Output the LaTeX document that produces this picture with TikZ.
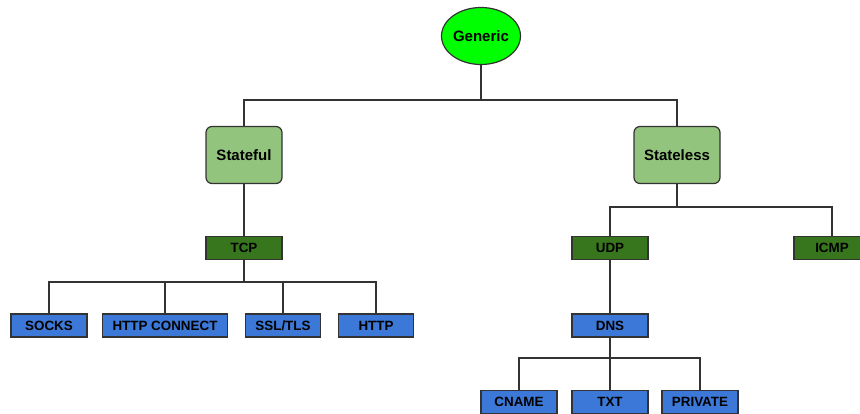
\documentclass[tikz,border=0pt]{standalone}
\usepackage{fontspec}
\setmainfont{Liberation Sans}
\usetikzlibrary{shapes.geometric}
\definecolor{brightgreen}{HTML}{00FF00}
\definecolor{lightgreen}{HTML}{93C47D}
\definecolor{darkgreen}{HTML}{38761D}
\definecolor{boxblue}{HTML}{3C78D8}
\definecolor{edge}{HTML}{333333}
\begin{document}
\begin{tikzpicture}[x=1pt,y=-1pt,
  base/.style={draw=edge,line width=1.2pt,inner sep=0pt,font=\bfseries\fontsize{15}{18}\selectfont,text=black},
  rootnode/.style={base,ellipse,fill=brightgreen,minimum width=76pt,minimum height=57pt},
  midbox/.style={base,rounded corners=6pt,fill=lightgreen,minimum height=57pt},
  protobox/.style={base,fill=darkgreen,minimum width=76pt,minimum height=23pt,font=\bfseries\fontsize{13.4}{16}\selectfont},
  leafbox/.style={base,fill=boxblue,minimum width=76pt,minimum height=23pt,font=\bfseries\fontsize{13.4}{16}\selectfont},
  conn/.style={draw=edge,line width=1.4pt}]
\useasboundingbox (0,0) rectangle (860,414);
\node[rootnode] (generic) at (481,36) {Generic};
\node[midbox,minimum width=76pt] (stateful) at (244,155) {Stateful};
\node[midbox,minimum width=86pt] (stateless) at (677,155) {Stateless};
\node[protobox] (tcp) at (244,248) {TCP};
\node[protobox] (udp) at (610,248) {UDP};
\node[protobox] (icmp) at (832,248) {ICMP};
\node[leafbox] (socks) at (49,325.5) {SOCKS};
\node[leafbox,minimum width=125pt] (httpc) at (165,325.5) {HTTP CONNECT};
\node[leafbox,minimum width=75pt] (ssl) at (283,325.5) {SSL/TLS};
\node[leafbox,minimum width=75pt] (http) at (376,325.5) {HTTP};
\node[leafbox] (dns) at (610,325.5) {DNS};
\node[leafbox] (cname) at (519,402) {CNAME};
\node[leafbox] (txt) at (610,402) {TXT};
\node[leafbox] (private) at (700,402) {PRIVATE};
\coordinate (b1) at (481,100);
\coordinate (b2) at (244,282);
\coordinate (b3) at (677,207);
\coordinate (b4) at (610,358);
\draw[conn] (generic.south) -- (b1) -| (stateful.north);
\draw[conn] (b1) -| (stateless.north);
\draw[conn] (stateful.south) -- (tcp.north);
\draw[conn] (tcp.south) -- (b2) -| (socks.north);
\draw[conn] (b2) -| (httpc.north);
\draw[conn] (b2) -| (ssl.north);
\draw[conn] (b2) -| (http.north);
\draw[conn] (stateless.south) -- (b3) -| (udp.north);
\draw[conn] (b3) -| (icmp.north);
\draw[conn] (udp.south) -- (dns.north);
\draw[conn] (dns.south) -- (b4) -| (cname.north);
\draw[conn] (b4) -- (txt.north);
\draw[conn] (b4) -| (private.north);
\end{tikzpicture}
\end{document}
